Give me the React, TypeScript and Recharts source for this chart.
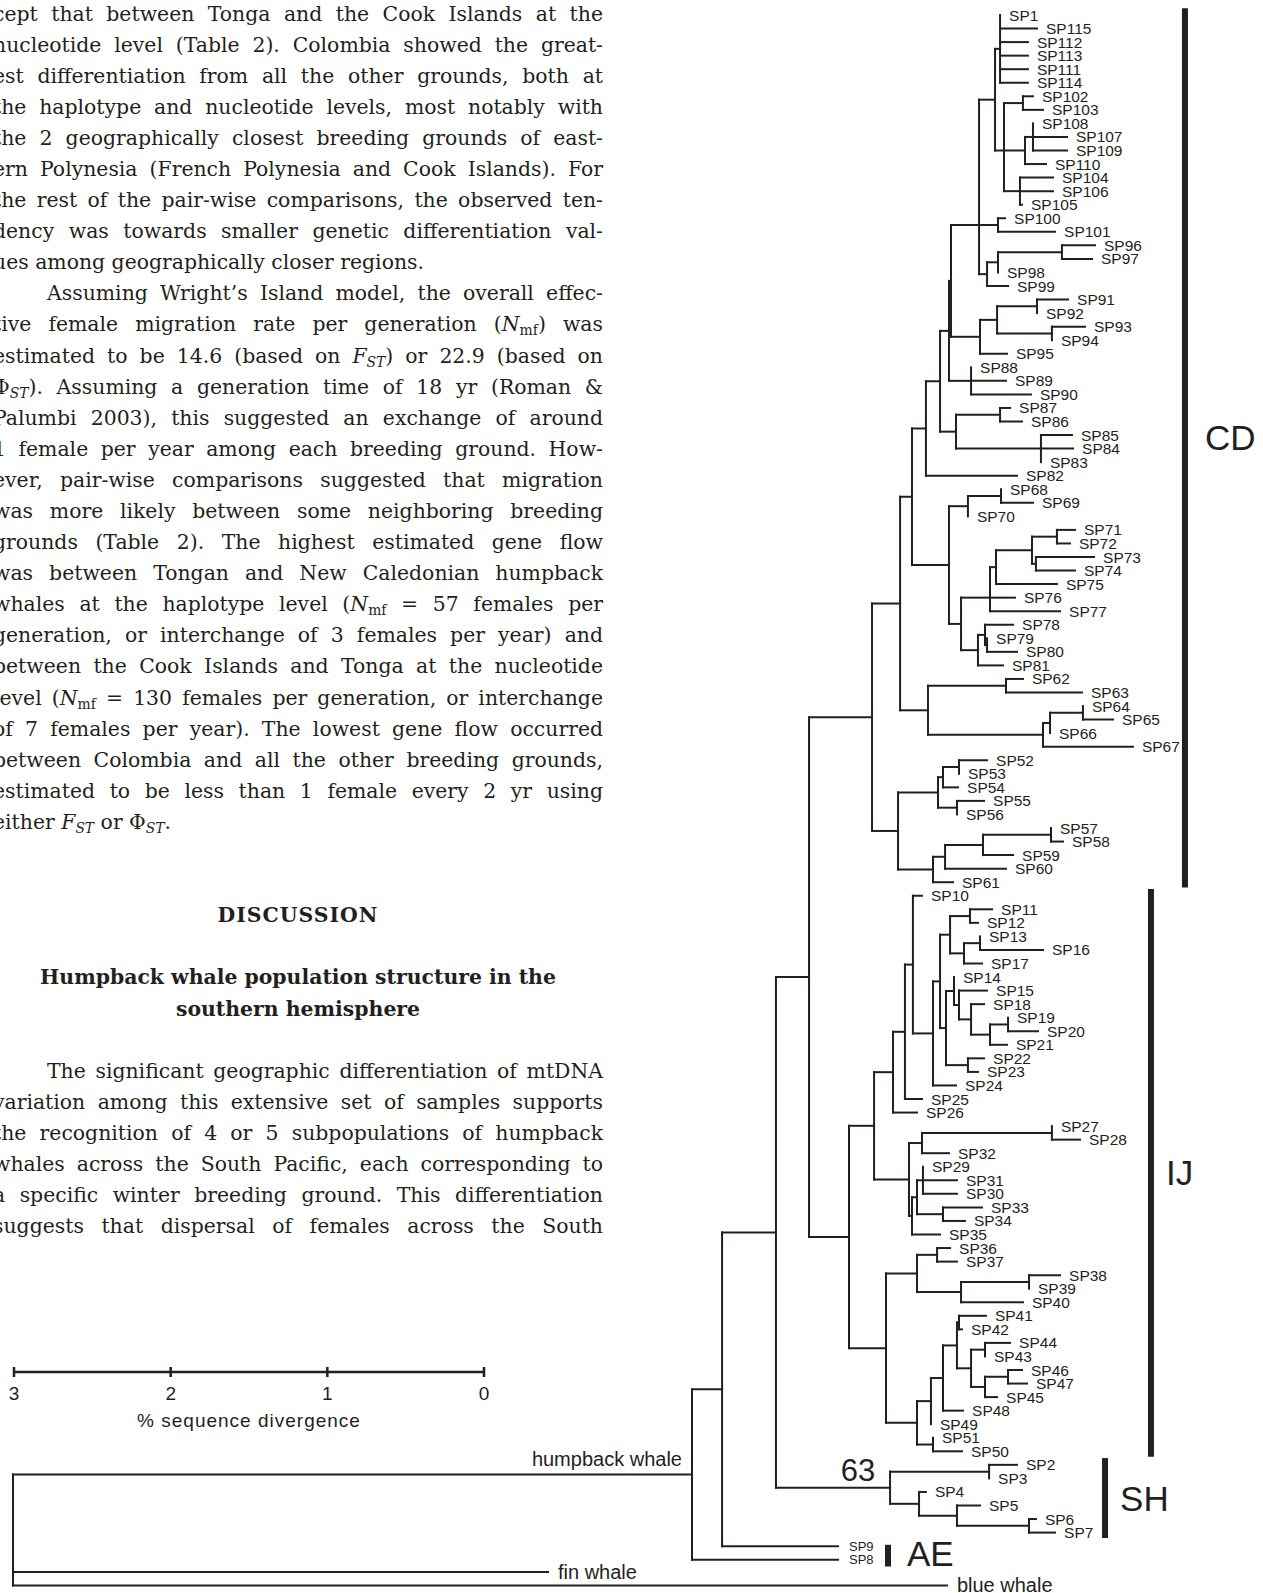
import React from 'react';
import {
  ScatterChart, Scatter, XAxis, YAxis, ReferenceLine,
  LineChart, Line, Label,
} from 'recharts';

const INK = '#231f20';
const SANS = '"Liberation Sans", Arial, Helvetica, sans-serif';
const SERIF = '"DejaVu Serif", "Liberation Serif", serif';

// internal nodes: [id, parent, % sequence divergence from the root]
const backboneNodes: [string, string | null, number][] = [
  ['root', null, 0],
  ['H', 'root', 4.333],
  ['N722', 'H', 4.525],
  ['N776', 'N722', 4.869],
  ['A12', 'N776', 5.08],
  ['A11', 'A12', 5.482],
  ['IJ', 'A12', 5.335],
  ['SH', 'N776', 5.597],
];

const cdNodes: [string, string, number][] = [
  ['A10', 'A11', 5.661], ['P52', 'A11', 5.648], ['A9', 'A10', 5.737], ['P62', 'A10', 5.839],
  ['A8', 'A9', 5.826], ['P68', 'A9', 5.973], ['A7', 'A8', 5.916], ['A6', 'A7', 5.973],
  ['P83', 'A7', 6.018], ['A5', 'A6', 5.986], ['P88', 'A6', 6.114], ['A4', 'A5', 6.165],
  ['P91', 'A5', 6.171], ['A2', 'A4', 6.267], ['P100', 'A4', 6.286], ['P96', 'A4', 6.216],
  ['A1', 'A2', 6.299], ['A3', 'A2', 6.324], ['C1', 'A3', 6.445], ['C2', 'A3', 6.458],
  ['C2a', 'C2', 6.509], ['C3', 'A3', 6.426], ['P96a', 'P96', 6.286], ['P96b', 'P96a', 6.694],
  ['P91a', 'P91', 6.28], ['P91b', 'P91a', 6.535], ['P93', 'P91a', 6.63], ['P86', 'P83', 6.299],
  ['P85', 'P83', 6.56], ['P68a', 'P68', 6.094], ['P68b', 'P68a', 6.305], ['P71', 'P68', 6.05],
  ['Q1', 'P71', 6.235], ['Q3', 'Q1', 6.273], ['Q4', 'Q3', 6.503], ['Q5', 'Q4', 6.662],
  ['Q6', 'Q4', 6.528], ['Q2', 'P71', 6.158], ['Q7', 'Q2', 6.203], ['Q8', 'Q7', 6.216],
  ['P62a', 'P62', 6.337], ['P64', 'P62', 6.573], ['P64a', 'P64', 6.618], ['P64b', 'P64a', 6.828],
  ['P52a', 'P52', 5.903], ['P52b', 'P52a', 5.935], ['P52c', 'P52b', 6.037], ['P55', 'P52a', 6.024],
  ['P57', 'P52', 5.871], ['P57a', 'P57', 5.948], ['P57b', 'P57a', 6.19], ['P57c', 'P57b', 6.624],
];

const ijNodes: [string, string, number][] = [
  ['I1', 'IJ', 5.495], ['D0', 'IJ', 5.571], ['Bm1', 'I1', 5.616], ['B0', 'Bm1', 5.692],
  ['B1', 'B0', 5.743], ['B2', 'B1', 5.871], ['B3', 'B2', 5.916], ['B4', 'B3', 5.98],
  ['B4a', 'B4', 6.107], ['B4b', 'B4', 6.069], ['B4c', 'B4b', 6.171], ['B5', 'B3', 5.954],
  ['B6', 'B5', 6.005], ['B7', 'B6', 6.037], ['B8', 'B7', 6.114], ['B9', 'B8', 6.235],
  ['B10', 'B9', 6.35], ['B11', 'B5', 6.094], ['G1', 'I1', 5.718], ['G2', 'G1', 5.801],
  ['G2a', 'G2', 6.63], ['G6', 'G1', 5.737], ['G5', 'G6', 5.769], ['G3', 'G5', 5.807],
  ['G4', 'G5', 5.935], ['D1', 'D0', 5.769], ['D2', 'D1', 5.897], ['D3', 'D1', 6.05],
  ['D3a', 'D3', 6.484], ['E1', 'D0', 5.769], ['E2', 'E1', 5.858], ['E4', 'E2', 5.935],
  ['E5', 'E4', 6.024], ['E6', 'E5', 6.037], ['E7', 'E5', 6.114], ['E8', 'E7', 6.203],
  ['E9', 'E7', 6.203], ['E10', 'E9', 6.35], ['E3', 'E1', 5.871],
];

const shNodes: [string, string, number][] = [
  ['S1', 'SH', 6.229], ['S2', 'SH', 5.782], ['S3', 'S2', 6.024], ['S4', 'S3', 6.484],
];

// leaves in top-to-bottom order: [name, parent, tip divergence]
const cdLeaves: [string, string, number][] = [
  ['SP1', 'A1', 6.299], ['SP115', 'A1', 6.535], ['SP112', 'A1', 6.477], ['SP113', 'A1', 6.477],
  ['SP111', 'A1', 6.477], ['SP114', 'A1', 6.477], ['SP102', 'C1', 6.509], ['SP103', 'C1', 6.573],
  ['SP108', 'C2a', 6.509], ['SP107', 'C2a', 6.726], ['SP109', 'C2a', 6.726], ['SP110', 'C2', 6.592],
  ['SP104', 'C3', 6.637], ['SP106', 'C3', 6.637], ['SP105', 'C3', 6.439], ['SP100', 'P100', 6.331],
  ['SP101', 'P100', 6.65], ['SP96', 'P96b', 6.905], ['SP97', 'P96b', 6.886], ['SP98', 'P96a', 6.286],
  ['SP99', 'P96', 6.35], ['SP91', 'P91b', 6.733], ['SP92', 'P91b', 6.535], ['SP93', 'P93', 6.841],
  ['SP94', 'P93', 6.63], ['SP95', 'P91', 6.343], ['SP88', 'P88', 6.114], ['SP89', 'P88', 6.337],
  ['SP90', 'P88', 6.496], ['SP87', 'P86', 6.363], ['SP86', 'P86', 6.439], ['SP85', 'P85', 6.758],
  ['SP84', 'P85', 6.765], ['SP83', 'P85', 6.56], ['SP82', 'A8', 6.407], ['SP68', 'P68b', 6.305],
  ['SP69', 'P68b', 6.509], ['SP70', 'P68a', 6.094], ['SP71', 'Q5', 6.777], ['SP72', 'Q5', 6.745],
  ['SP73', 'Q6', 6.899], ['SP74', 'Q6', 6.777], ['SP75', 'Q3', 6.662], ['SP76', 'Q1', 6.394],
  ['SP77', 'Q1', 6.682], ['SP78', 'Q7', 6.382], ['SP79', 'Q8', 6.216], ['SP80', 'Q8', 6.407],
  ['SP81', 'Q2', 6.318], ['SP62', 'P62a', 6.445], ['SP63', 'P62a', 6.822], ['SP64', 'P64b', 6.828],
  ['SP65', 'P64b', 7.02], ['SP66', 'P64a', 6.618], ['SP67', 'P64', 7.147], ['SP52', 'P52c', 6.216],
  ['SP53', 'P52c', 6.037], ['SP54', 'P52b', 6.031], ['SP55', 'P55', 6.197], ['SP56', 'P55', 6.024],
  ['SP57', 'P57c', 6.624], ['SP58', 'P57c', 6.701], ['SP59', 'P57b', 6.382], ['SP60', 'P57a', 6.337],
  ['SP61', 'P57', 5.999],
];

const ijLeaves: [string, string, number][] = [
  ['SP10', 'B1', 5.801], ['SP11', 'B4a', 6.248], ['SP12', 'B4a', 6.158], ['SP13', 'B4c', 6.171],
  ['SP16', 'B4c', 6.573], ['SP17', 'B4b', 6.184], ['SP14', 'B6', 6.005], ['SP15', 'B7', 6.216],
  ['SP18', 'B8', 6.197], ['SP19', 'B10', 6.35], ['SP20', 'B10', 6.541], ['SP21', 'B9', 6.343],
  ['SP22', 'B11', 6.197], ['SP23', 'B11', 6.158], ['SP24', 'B2', 6.018], ['SP25', 'B0', 5.801],
  ['SP26', 'Bm1', 5.769], ['SP27', 'G2a', 6.63], ['SP28', 'G2a', 6.809], ['SP32', 'G2', 5.973],
  ['SP29', 'G3', 5.807], ['SP31', 'G3', 6.024], ['SP30', 'G3', 6.024], ['SP33', 'G4', 6.184],
  ['SP34', 'G4', 6.075], ['SP35', 'G6', 5.916], ['SP36', 'D2', 5.98], ['SP37', 'D2', 6.024],
  ['SP38', 'D3a', 6.682], ['SP39', 'D3a', 6.484], ['SP40', 'D3', 6.445], ['SP41', 'E6', 6.209],
  ['SP42', 'E6', 6.056], ['SP44', 'E8', 6.363], ['SP43', 'E8', 6.203], ['SP46', 'E10', 6.439],
  ['SP47', 'E10', 6.471], ['SP45', 'E9', 6.28], ['SP48', 'E4', 6.063], ['SP49', 'E2', 5.858],
  ['SP51', 'E3', 5.871], ['SP50', 'E3', 6.056],
];

const shLeaves: [string, string, number][] = [
  ['SP2', 'S1', 6.407], ['SP3', 'S1', 6.229], ['SP4', 'S2', 5.826],
  ['SP5', 'S3', 6.171], ['SP6', 'S4', 6.528], ['SP7', 'S4', 6.65],
];

const aeLeaves: [string, string, number][] = [
  ['SP9', 'N722', 5.265], ['SP8', 'H', 5.265],
];

// outgroups: [name, parent, tip, row]
const outgroupLeaves: [string, string, number, number][] = [
  ['fin whale', 'root', 3.414, 114.9],
  ['blue whale', 'root', 5.96, 115.9],
];

const clades: [string, string, string][] = [
  ['CD', 'SP1', 'SP61'], ['IJ', 'SP10', 'SP50'], ['SH', 'SP2', 'SP7'], ['AE', 'SP9', 'SP8'],
];
const supportValues: [string, string][] = [['SH', '63']];
const scaleTicks = [3, 2, 1, 0];

const textLines: [string, string][] = [
  ['j', 'cept that between Tonga and the Cook Islands at the'],
  ['j', 'nucleotide level (Table 2). Colombia showed the great-'],
  ['j', 'est differentiation from all the other grounds, both at'],
  ['j', 'the haplotype and nucleotide levels, most notably with'],
  ['j', 'the 2 geographically closest breeding grounds of east-'],
  ['j', 'ern Polynesia (French Polynesia and Cook Islands). For'],
  ['j', 'the rest of the pair-wise comparisons, the observed ten-'],
  ['j', 'dency was towards smaller genetic differentiation val-'],
  ['l', 'ues among geographically closer regions.'],
  ['i', 'Assuming Wright\u2019s Island model, the overall effec-'],
  ['j', 'tive female migration rate per generation (*N*~mf~) was'],
  ['j', 'estimated to be 14.6 (based on *F*^ST^) or 22.9 (based on'],
  ['j', '\u03A6^ST^). Assuming a generation time of 18 yr (Roman &'],
  ['j', 'Palumbi 2003), this suggested an exchange of around'],
  ['j', '1 female per year among each breeding ground. How-'],
  ['j', 'ever, pair-wise comparisons suggested that migration'],
  ['j', 'was more likely between some neighboring breeding'],
  ['j', 'grounds (Table 2). The highest estimated gene flow'],
  ['j', 'was between Tongan and New Caledonian humpback'],
  ['j', 'whales at the haplotype level (*N*~mf~ = 57 females per'],
  ['j', 'generation, or interchange of 3 females per year) and'],
  ['j', 'between the Cook Islands and Tonga at the nucleotide'],
  ['j', 'level (*N*~mf~ = 130 females per generation, or interchange'],
  ['j', 'of 7 females per year). The lowest gene flow occurred'],
  ['j', 'between Colombia and all the other breeding grounds,'],
  ['j', 'estimated to be less than 1 female every 2 yr using'],
  ['l', 'either *F*^ST^ or \u03A6^ST^.'],
  ['b', ''],
  ['b', ''],
  ['h', 'DISCUSSION'],
  ['b', ''],
  ['c', 'Humpback whale population structure in the'],
  ['c', 'southern hemisphere'],
  ['b', ''],
  ['i', 'The significant geographic differentiation of mtDNA'],
  ['j', 'variation among this extensive set of samples supports'],
  ['j', 'the recognition of 4 or 5 subpopulations of humpback'],
  ['j', 'whales across the South Pacific, each corresponding to'],
  ['j', 'a specific winter breeding ground. This differentiation'],
  ['j', 'suggests that dispersal of females across the South'],
];

const W = 1263;
const H = 1593;
const PX_PER_PCT = 156.7;
const ROOT_PX = 13;
const PX_PER_ROW = 13.55;
const FIRST_ROW_PX = 15;
const X_DOMAIN = [-ROOT_PX / PX_PER_PCT, (W - ROOT_PX) / PX_PER_PCT];
const Y_DOMAIN = [-FIRST_ROW_PX / PX_PER_ROW, (H - FIRST_ROW_PX) / PX_PER_ROW];

// where each clade bar sits and how its letters are nudged
const CLADE_BARS: Record<string, { x: number; top: number; bottom: number; dx: number; dy: number }> = {
  CD: { x: 7.479, top: 0.5, bottom: 0.4, dx: 20, dy: -10 },
  IJ: { x: 7.262, top: 0.5, bottom: 0.4, dx: 15, dy: 0 },
  SH: { x: 6.969, top: 0.5, bottom: 0.4, dx: 15, dy: 0 },
  AE: { x: 5.584, top: 0.1, bottom: 0.5, dx: 19, dy: -2 },
};

type TNode = { id: string; parent: string | null; x: number; y: number; kids: string[]; leaf: boolean };

const ingroupLeaves = [...cdLeaves, ...ijLeaves, ...shLeaves, ...aeLeaves];

function buildTree() {
  const nodes = new Map<string, TNode>();
  [...backboneNodes, ...cdNodes, ...ijNodes, ...shNodes].forEach(([id, parent, x]) =>
    nodes.set(id, { id, parent, x, y: 0, kids: [], leaf: false }));
  ingroupLeaves.forEach(([id, parent, x], row) =>
    nodes.set(id, { id, parent, x, y: row, kids: [], leaf: true }));
  outgroupLeaves.forEach(([id, parent, x, row]) =>
    nodes.set(id, { id, parent, x, y: row, kids: [], leaf: true }));
  nodes.forEach((n) => { if (n.parent) nodes.get(n.parent)!.kids.push(n.id); });
  const place = (id: string): number => {
    const n = nodes.get(id)!;
    if (n.leaf) return n.y;
    const ys = n.kids.map(place).sort((a, b) => a - b);
    // three-way splits hang from the middle branch, the rest from the midpoint
    n.y = ys.length === 3 ? ys[1] : (ys[0] + ys[ys.length - 1]) / 2;
    return n.y;
  };
  place('root');
  return nodes;
}

function renderRich(s: string) {
  const sub = { fontSize: '0.68em', lineHeight: 0, verticalAlign: '-0.28em' };
  return s.split(/(\*[^*]+\*|~[^~]+~|\^[^^]+\^)/).map((p, i) => {
    if (p.length > 2 && p[0] === '*') return <i key={i}>{p.slice(1, -1)}</i>;
    if (p.length > 2 && p[0] === '~') return <sub key={i} style={sub}>{p.slice(1, -1)}</sub>;
    if (p.length > 2 && p[0] === '^') return <sub key={i} style={{ ...sub, fontStyle: 'italic' }}>{p.slice(1, -1)}</sub>;
    return <React.Fragment key={i}>{p}</React.Fragment>;
  });
}

function lineStyle(kind: string): React.CSSProperties {
  const base: React.CSSProperties = { height: 31.1 };
  if (kind === 'j') return { ...base, textAlign: 'justify', textAlignLast: 'justify' };
  if (kind === 'i') return { ...base, textAlign: 'justify', textAlignLast: 'justify', textIndent: 54 };
  if (kind === 'h') return { ...base, textAlign: 'center', fontWeight: 'bold', letterSpacing: 1 };
  if (kind === 'c') return { ...base, textAlign: 'center', fontWeight: 'bold' };
  return { ...base, textAlign: 'left' };
}

const LeafLabel = (props: any) => {
  const { cx, cy, payload } = props;
  const small = payload.small;
  return (
    <text x={cx + (small ? 11 : 9)} y={cy} dominantBaseline="central" fontFamily={SANS}
      fontSize={small ? 13 : 15.5} fill={INK}>
      {payload.name}
    </text>
  );
};

const OutgroupLabel = (props: any) => {
  const { cx, cy, payload } = props;
  return (
    <text x={cx + 10} y={cy} dominantBaseline="central" fontFamily={SANS} fontSize={20} fill={INK}>
      {payload.name}
    </text>
  );
};

const HumpbackLabel = (props: any) => (
  <text x={props.cx - 10} y={props.cy - 15} textAnchor="end" dominantBaseline="central"
    fontFamily={SANS} fontSize={20} fill={INK}>
    humpback whale
  </text>
);

const SupportLabel = (props: any) => (
  <text x={props.cx - 32} y={props.cy - 17} textAnchor="middle" dominantBaseline="central"
    fontFamily={SANS} fontSize={31} fill={INK}>
    {props.payload.name}
  </text>
);

const CladeLabel = (props: any) => (
  <text x={props.cx + props.payload.dx} y={props.cy + props.payload.dy} dominantBaseline="central"
    fontFamily={SANS} fontSize={35} fill={INK}>
    {props.payload.name}
  </text>
);

const ScaleTick = (props: any) => {
  const { x, y, payload } = props;
  return (
    <g>
      <line x1={x} x2={x} y1={y - 5} y2={y + 5} stroke={INK} strokeWidth={2.5} />
      <text x={x} y={y + 21} textAnchor="middle" dominantBaseline="central" fontFamily={SANS}
        fontSize={19} fill={INK}>
        {payload.value}
      </text>
    </g>
  );
};

export default function App() {
  const tree = buildTree();

  const branches: { x1: number; y1: number; x2: number; y2: number }[] = [];
  tree.forEach((n) => {
    if (n.parent) {
      const p = tree.get(n.parent)!;
      if (n.x > p.x) branches.push({ x1: p.x, y1: n.y, x2: n.x, y2: n.y });
    }
    if (!n.leaf) {
      const ys = n.kids.map((k) => tree.get(k)!.y);
      branches.push({ x1: n.x, y1: Math.min(...ys), x2: n.x, y2: Math.max(...ys) });
    }
  });

  const leafPoints = ingroupLeaves.map(([name]) => {
    const n = tree.get(name)!;
    return { x: n.x, y: n.y, name, small: aeLeaves.some((a) => a[0] === name) };
  });
  const outgroupPoints = outgroupLeaves.map(([name]) => {
    const n = tree.get(name)!;
    return { x: n.x, y: n.y, name };
  });
  const humpback = tree.get('H')!;
  const supportPoints = supportValues.map(([id, v]) => {
    const n = tree.get(id)!;
    return { x: n.x, y: n.y, name: v };
  });
  const cladeSpans = clades.map(([name, first, last]) => {
    const bar = CLADE_BARS[name];
    const y1 = tree.get(first)!.y - bar.top;
    const y2 = tree.get(last)!.y + bar.bottom;
    return { name, x: bar.x, y1, y2, y: (y1 + y2) / 2, dx: bar.dx, dy: bar.dy };
  });

  const scaleData = scaleTicks.map((t) => ({ pct: t, bar: 0 }));

  return (
    <div style={{ position: 'absolute', left: 0, top: 0, width: W, height: H, overflow: 'hidden', background: '#fff' }}>
      <div style={{ position: 'absolute', left: -7, top: -1.5, width: 610, fontFamily: SERIF, fontSize: 20.4, lineHeight: '31.1px', color: INK }}>
        {textLines.map(([kind, text], i) => (
          <div key={i} style={lineStyle(kind)}>{kind === 'b' ? '\u00a0' : renderRich(text)}</div>
        ))}
      </div>

      <div style={{ position: 'absolute', left: 0, top: 1352 }}>
        <LineChart width={520} height={90} data={scaleData} margin={{ top: 10, right: 36, bottom: 0, left: 14 }}>
          <XAxis dataKey="pct" type="number" domain={[0, 3]} reversed ticks={scaleTicks}
            height={70} tickSize={0} tickMargin={0} tickLine={false} interval={0}
            axisLine={{ stroke: INK, strokeWidth: 2.5 }} tick={<ScaleTick />}>
            <Label content={(p: any) => (
              <text x={p.viewBox.x + p.viewBox.width / 2} y={p.viewBox.y + 48} textAnchor="middle"
                dominantBaseline="central" fontFamily={SANS} fontSize={19} letterSpacing={1} fill={INK}>
                % sequence divergence
              </text>
            )} />
          </XAxis>
          <YAxis hide domain={[-1, 1]} />
          <Line dataKey="bar" stroke="none" dot={false} isAnimationActive={false} />
        </LineChart>
      </div>

      <div style={{ position: 'absolute', left: 0, top: 0 }}>
        <ScatterChart width={W} height={H} margin={{ top: 0, right: 0, bottom: 0, left: 0 }}>
          <XAxis type="number" dataKey="x" domain={X_DOMAIN} allowDataOverflow hide />
          <YAxis type="number" dataKey="y" domain={Y_DOMAIN} allowDataOverflow reversed hide />
          {branches.map((s, i) => (
            <ReferenceLine key={`b${i}`} segment={[{ x: s.x1, y: s.y1 }, { x: s.x2, y: s.y2 }]}
              stroke={INK} strokeWidth={2} strokeLinecap="square" ifOverflow="visible" />
          ))}
          {cladeSpans.map((c) => (
            <ReferenceLine key={c.name} segment={[{ x: c.x, y: c.y1 }, { x: c.x, y: c.y2 }]}
              stroke={INK} strokeWidth={6} ifOverflow="visible" />
          ))}
          <Scatter data={leafPoints} shape={<LeafLabel />} isAnimationActive={false} />
          <Scatter data={outgroupPoints} shape={<OutgroupLabel />} isAnimationActive={false} />
          <Scatter data={[{ x: humpback.x, y: humpback.y }]} shape={<HumpbackLabel />} isAnimationActive={false} />
          <Scatter data={supportPoints} shape={<SupportLabel />} isAnimationActive={false} />
          <Scatter data={cladeSpans} shape={<CladeLabel />} isAnimationActive={false} />
        </ScatterChart>
      </div>
    </div>
  );
}
